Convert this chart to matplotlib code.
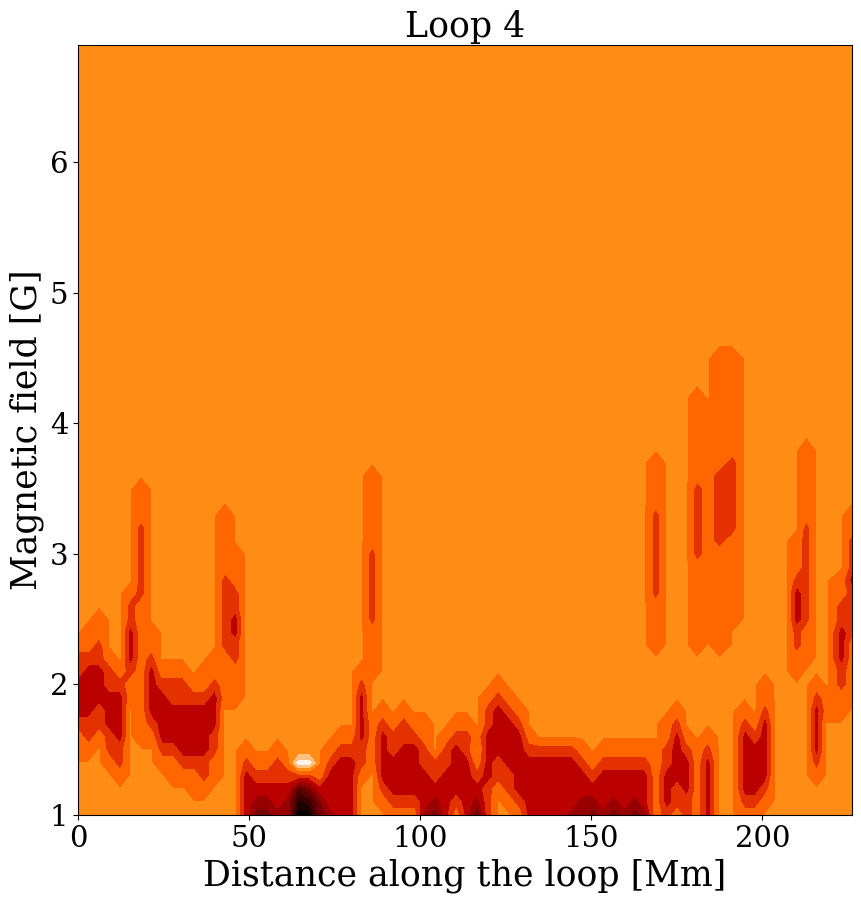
import numpy as np
import matplotlib
matplotlib.use("Agg")
from matplotlib import pyplot as plt

# distance along the loop [Mm], one value per column below
distance = [0, 3.07, 6.14, 9.21, 12.28, 15.35, 18.42, 21.49, 24.56, 27.63, 30.7, 33.77, 36.84, 39.91,
            42.98, 46.05, 49.12, 52.19, 55.26, 58.33, 61.4, 64.47, 67.54, 70.61, 73.68, 76.75, 79.82,
            82.89, 85.96, 89.03, 92.1, 95.17, 98.24, 101.31, 104.38, 107.45, 110.52, 113.59, 116.66,
            119.73, 122.8, 125.87, 128.94, 132.01, 135.08, 138.15, 141.22, 144.29, 147.36, 150.43,
            153.5, 156.57, 159.64, 162.71, 165.6, 168.9, 172.0, 175.1, 177.9, 181.0, 184.1, 187.4,
            191.3, 194.9, 197.8, 200.8, 203.8, 206.9, 210.0, 212.9, 215.8, 218.9, 223.1, 226.2]
# magnetic field rows [G], bottom to top
field = [1.0, 1.1, 1.2, 1.3, 1.4, 1.5, 1.6, 1.7, 1.8, 1.9, 2.0, 2.1, 2.2, 2.3, 2.4, 2.5, 2.6, 2.7, 2.8, 2.9,
         3.0, 3.1, 3.2, 3.3, 3.4, 3.5, 3.6, 3.7, 3.8, 3.9, 4.0, 4.1, 4.2, 4.3, 4.4, 4.5, 4.6, 4.7, 4.8, 4.9,
         5.0, 5.1, 5.2, 5.3, 5.4, 5.5, 5.6, 5.7, 5.8, 5.9, 6.0, 6.1, 6.2, 6.3, 6.4, 6.5, 6.6, 6.7, 6.8, 6.9]
# one string per column, bottom row first, one band digit per row
# 9 is the background, and rows left off the top of a string are background too
columns = [
    "99999887666778", "999998776666788", "9999998776667788", "9999877666778", "999877666678",
    "999999999887666778", "99999988888888888777777888", "999999876666788", "999987666678",
    "999887666778", "999876666778", "99887666678", "998776666788",
    "9998877666788", "999999999888877777788888", "999999999888776677888",
    "666678", "45678", "45678", "566778", "55678", "0137b", "0247b", "4468", "566678", "6666678", "6666678",
    "999877666678", "999988889998888777777888888", "987666678", "87666778", "876666778", "87666678",
    "56667788", "45677", "6666778", "87666678", "66666778", "3567898", "7776666778", "99877666678",
    "9877666678", "876666678", "6666678", "666667", "666667", "666667", "566667", "556678", "45678",
    "566678", "456678", "566678", "456678", "566678",
    "8888889999999888877777778888", "76667788", "877666678", "7766678",
    "888888999999988888887777778888888",
    "66666789999999888888888888888888",
    "999999999999988888888777777888888888",
    "999999999999999888888877777788888888",
    "876666678", "87666678", "98766666788", "", "",
    "9999999999988776667888", "99999999999988877777777888888",
    "99987666678", "9999999988", "9999999988776667788",
    "999999999888887777677788",
]
tick_x = [0, 50, 100, 150, 200]
tick_y = [1, 2, 3, 4, 5, 6]
band_colours = ["#000000", "#1c0000", "#3a0000", "#580000", "#770000", "#990000", "#bb0000", "#e33200",
                "#ff6600", "#ff8c15", "#ffc080", "#fff2e6"]

# the background sits just above its lower level, so band edges hug the background cells
grid = np.array([[9.02 if c == "9" else int(c, 16) + 0.5 for c in col.ljust(len(field), "9")] for col in columns]).T

fig = plt.figure(figsize=(8.62, 9.02), dpi=100)
ax = fig.add_axes([78 / 862, 1 - 815 / 902, 774 / 862, 770 / 902])
ax.contourf(distance, field, grid, levels=np.arange(13), colors=band_colours)
ax.set_xlim(0, 226.2)
ax.set_ylim(1, 6.9)
ax.set_xticks(tick_x)
ax.set_yticks(tick_y)
ax.tick_params(labelsize=21, labelfontfamily="DejaVu Serif")
ax.set_title("Loop 4", fontsize=25, family="DejaVu Serif")
ax.set_xlabel("Distance along the loop [Mm]", fontsize=25, family="DejaVu Serif")
ax.set_ylabel("Magnetic field [G]", fontsize=25, family="DejaVu Serif")
fig.savefig("out.png", dpi=100)
